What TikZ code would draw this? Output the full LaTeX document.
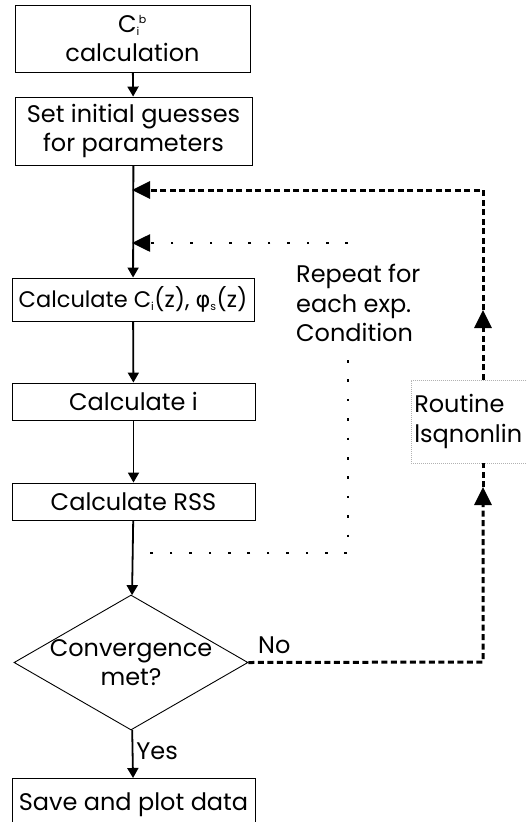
\documentclass[tikz,border=0pt]{standalone}
\usepackage{fontspec}
\setmainfont{Poppins}
\newfontfamily\greekfont{DejaVu Sans}
\usetikzlibrary{shapes.geometric,arrows.meta}
\newcommand\scr{\fontsize{11}{11}\selectfont}
\newcommand\Csub[1]{C\textsubscript{\scr #1}}
\newcommand\zw[1]{\makebox[0pt]{#1}}
\begin{document}
\begin{tikzpicture}[x=1pt,y=-1pt,
  every node/.style={font=\fontsize{24}{29.5}\selectfont},
  box/.style={draw,line width=0.9pt,inner sep=0pt,align=center},
  flow/.style={line width=1.8pt,-{Triangle[length=10pt,width=11pt]}},
  fbdash/.style={line width=3pt,dash pattern=on 6pt off 3.5pt},
  fbdot/.style={line width=2.6pt,dash pattern=on 2.6pt off 16.8pt},
  bigtip/.style={-{Triangle[length=18pt,width=17pt]}},
  lbl/.style={inner sep=0pt}
]
\useasboundingbox (0,0) rectangle (527,822);

% main chain of steps
\node[box,minimum width=235,minimum height=67] (b1) at (132.5,38.5)
  {C\textsubscript{\scr i}\kern-1pt\textsuperscript{\scr b}\\calculation};
\node[box,minimum width=237,minimum height=68] (b2) at (133.5,131)
  {Set initial guesses\\for parameters};
\node[box,minimum width=242,minimum height=43,font=\fontsize{22.5}{28}\selectfont] (b3) at (133,299.5)
  {Calculate \Csub{i}(z), {\greekfont φ}\textsubscript{\scr s}(z)};
\node[box,minimum width=243,minimum height=37] (b4) at (133.5,401.5)
  {Calculate i};
\node[box,minimum width=243,minimum height=37] (b5) at (133.5,501.5)
  {Calculate RSS};
\node[draw,line width=0.9pt,diamond,inner sep=0pt,aspect=1.73,
      minimum width=234,minimum height=135,align=center] (d) at (131,662.5)
  {\zw{Convergence}\\\zw{met?}};
\node[box,minimum width=243,minimum height=52,anchor=north] (b6) at (133.5,778)
  {\raisebox{6pt}{Save and plot data}};

% side notes
\node[lbl,anchor=north west,align=left] (rep) at (296,264)
  {Repeat for\\each exp.\\Condition};
\node[draw=gray!60,line width=0.5pt,dash pattern=on 1pt off 1pt,
      anchor=west,minimum height=83,text width=119pt,inner xsep=3pt,
      align=left] (rt) at (411,421.5)
  {Routine\\lsqnonlin};

% junction points on the main line
\coordinate (j1) at (132,190);
\coordinate (j2) at (132,243);

\draw[flow] (b1) -- (b2);
\draw[flow] (b2) -- (b3);
\draw[flow] (b3) -- (b4);
\draw[flow] (b4) -- (b5);
\draw[flow] (b5) -- (d);
\draw[flow] (d) -- node[lbl,right=3pt,pos=0.45] (yes) {Yes} (b6);

% inner loop over experimental conditions
\coordinate (p1) at (348,243);
\coordinate (p2) at (348,360);
\coordinate (p3) at (348,553);
\coordinate (p4) at (134,553);
\draw[fbdot,bigtip] (p1) -- (j2);
\draw[fbdot] (p2) -- (p3) -- (p4);

% outer optimisation loop
\coordinate (q1) at (483,662);
\coordinate (q2) at (483,487);
\coordinate (q3) at (483,310);
\coordinate (q4) at (483,190);
\draw[fbdash,bigtip] (d.east) -- (q1) -- (q2);
\draw[fbdash] (q2) -- (q2 |- rt.south);
\draw[fbdash,bigtip] (q3 |- rt.north) -- (q3);
\draw[fbdash,bigtip] (q3) -- (q4) -- (j1);
\node[lbl,anchor=south west] (no) at (258,654) {No};
\end{tikzpicture}
\end{document}
